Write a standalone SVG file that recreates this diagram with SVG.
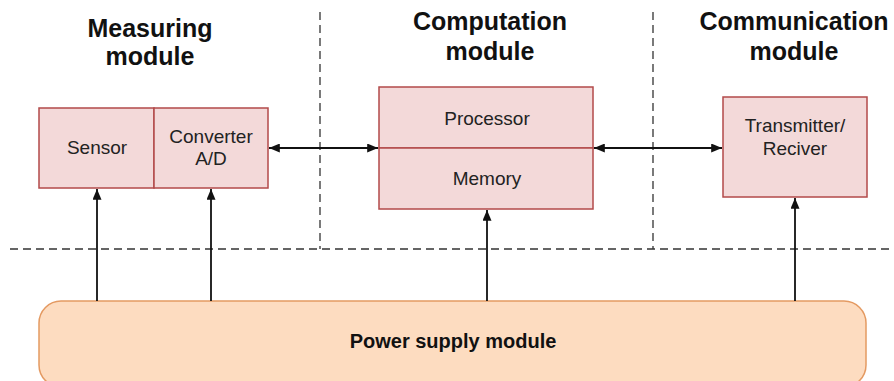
<svg xmlns="http://www.w3.org/2000/svg" width="894" height="381" viewBox="0 0 894 381">
<defs>
<marker id="ah" viewBox="0 0 12 10" refX="12" refY="5" markerWidth="12" markerHeight="9" orient="auto-start-reverse" markerUnits="userSpaceOnUse">
<path d="M0,0 L12,5 L0,10 z" fill="#111"/>
</marker>
<style>
.box{fill:#f3d9d9;stroke:#b34a4a;stroke-width:1.5}
.t{font-family:"Liberation Sans",Arial,sans-serif;font-size:19px;fill:#222;text-anchor:middle}
.h{font-family:"Liberation Sans",Arial,sans-serif;font-size:25px;font-weight:bold;fill:#111;text-anchor:middle}
.dash{stroke:#333;stroke-width:1.3;stroke-dasharray:8 5;fill:none}
.c{stroke:#111;stroke-width:1.8;fill:none}
</style>
</defs>
<rect width="894" height="381" fill="#fff"/>
<g id="separators">
<line class="dash" x1="10" y1="249" x2="894" y2="249"/>
<line class="dash" x1="320" y1="12" x2="320" y2="249"/>
<line class="dash" x1="653" y1="12" x2="653" y2="249"/>
</g>
<g id="titles">
<text class="h" x="150" y="37">Measuring</text>
<text class="h" x="150" y="65">module</text>
<text class="h" x="490" y="30">Computation</text>
<text class="h" x="490" y="60">module</text>
<text class="h" x="794" y="30">Communication</text>
<text class="h" x="794" y="60">module</text>
</g>
<g id="power">
<rect x="39" y="301" width="827" height="86" rx="22" fill="#fddcc0" stroke="#e49a62" stroke-width="1.5"/>
<text x="453" y="348" font-family="Liberation Sans,Arial,sans-serif" font-size="20" font-weight="bold" fill="#111" text-anchor="middle">Power supply module</text>
</g>
<g id="sensor">
<rect class="box" x="39" y="108" width="115" height="80"/>
<text class="t" x="97" y="154">Sensor</text>
</g>
<g id="converter">
<rect class="box" x="154" y="108" width="114" height="80"/>
<text class="t" x="211" y="143">Converter</text>
<text class="t" x="211" y="165">A/D</text>
</g>
<g id="processor">
<rect class="box" x="379" y="87" width="214" height="61"/>
<text class="t" x="487" y="125">Processor</text>
</g>
<g id="memory">
<rect class="box" x="379" y="148" width="214" height="61"/>
<text class="t" x="487" y="185">Memory</text>
</g>
<g id="transmitter">
<rect class="box" x="723" y="97" width="144" height="100"/>
<text class="t" x="795" y="132">Transmitter/</text>
<text class="t" x="795" y="155">Reciver</text>
</g>
<g id="connectors">
<line class="c" x1="269" y1="148" x2="378" y2="148" marker-start="url(#ah)" marker-end="url(#ah)"/>
<line class="c" x1="594" y1="148" x2="722" y2="148" marker-start="url(#ah)" marker-end="url(#ah)"/>
<line class="c" x1="97" y1="301" x2="97" y2="189" marker-end="url(#ah)"/>
<line class="c" x1="211" y1="301" x2="211" y2="189" marker-end="url(#ah)"/>
<line class="c" x1="487" y1="301" x2="487" y2="210" marker-end="url(#ah)"/>
<line class="c" x1="795" y1="301" x2="795" y2="198" marker-end="url(#ah)"/>
</g>
</svg>
